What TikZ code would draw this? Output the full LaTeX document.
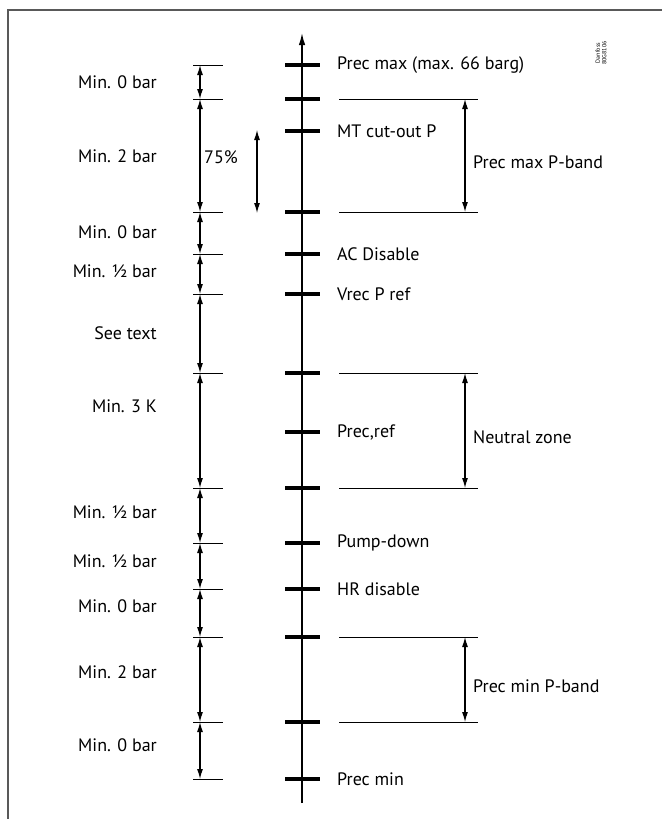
\documentclass[tikz,border=0pt]{standalone}
\usepackage{fontspec}
\setmainfont{PT Sans}
\usetikzlibrary{arrows.meta}
\begin{document}
\begin{tikzpicture}[x=1pt,y=-1pt,
  tickmark/.style={line width=4.5pt},
  axisline/.style={line width=1.4pt,-{Latex[length=12pt,width=6.5pt]}},
  dimarrow/.style={line width=1.1pt,{Latex[length=10pt,width=6pt]}-{Latex[length=10pt,width=6pt]}},
  extline/.style={line width=0.9pt},
  lbl/.style={font=\fontsize{18}{21}\selectfont, inner sep=0pt},
  frameline/.style={draw=black!65, line width=2pt}]
\useasboundingbox (0,0) rectangle (662,819);
% frame
\draw[frameline] (8,819) -- (8,10) -- (662,10);
% axis
\coordinate (axB) at (302,803);
\coordinate (axT) at (302,33);
\draw[axisline] (axB) -- (axT);
% ticks and labels
\foreach \y/\name/\txt in {65/t1/{Prec max (max. 66 barg)},99/t2/{},131/t3/{MT cut-out P},212/t4/{},254/t5/{AC Disable},294/t6/{Vrec P ref},373/t7/{},432/t8/{Prec,ref},488/t9/{},543/t10/{Pump-down},589/t11/{HR disable},637/t12/{},722/t13/{},779/t14/{Prec min}}{
  \coordinate (\name L) at (285,\y);
  \coordinate (\name R) at (320,\y);
  \draw[tickmark] (\name L) -- (\name R);
  \node[lbl, anchor=west] (\name txt) at (337,\y) {\txt};
}
% left extension lines
\foreach \y/\name in {65/a1,99/a2,212/a3,254/a4,294/a5,373/a6,488/a7,543/a8,589/a9,637/a10,722/a11,779/a12}{
  \coordinate (\name e1) at (193,\y);
  \coordinate (\name e2) at (223,\y);
  \coordinate (\name) at (200,\y);
  \draw[extline] (\name e1) -- (\name e2);
}
% left dimension arrows
\foreach \p/\q in {a1/a2,a2/a3,a3/a4,a4/a5,a5/a6,a6/a7,a7/a8,a8/a9,a9/a10,a10/a11,a11/a12}{
  \draw[dimarrow] (\p) -- (\q);
}
% left labels
\foreach \y/\txt [count=\i] in {82/{Min. 0 bar},156/{Min. 2 bar},232/{Min. 0 bar},271/{Min. ½ bar},333/{See text},406/{Min. 3 K},512/{Min. ½ bar},561/{Min. ½ bar},606/{Min. 0 bar},672/{Min. 2 bar},745/{Min. 0 bar}}{
  \node[lbl, anchor=east] (left\i) at (157,\y) {\txt};
}
% 75%
\node[lbl, anchor=west] (pct) at (204,157) {75\%};
\coordinate (pctT) at (257,130);
\coordinate (pctB) at (257,213);
\draw[dimarrow] (pctT) -- (pctB);
% right bands
\foreach \ya/\yb/\txt/\name in {99/212/{Prec max P-band}/b1,373/488/{Neutral zone}/b2,637/722/{Prec min P-band}/b3}{
  \coordinate (\name a1) at (339,\ya);
  \coordinate (\name a2) at (478,\ya);
  \coordinate (\name b1) at (339,\yb);
  \coordinate (\name b2) at (478,\yb);
  \coordinate (\name t) at (465,\ya);
  \coordinate (\name b) at (465,\yb);
  \draw[extline] (\name a1) -- (\name a2);
  \draw[extline] (\name b1) -- (\name b2);
  \draw[dimarrow] (\name t) -- (\name b);
  \node[lbl, anchor=west] (\name txt) at (473,{(\ya+\yb)/2+7}) {\txt};
}
% code
\node[rotate=90, font=\fontsize{6}{6.5}\selectfont, align=center, inner sep=0pt] (code) at (601,53) {Danfoss\\80G8106};
\end{tikzpicture}
\end{document}
